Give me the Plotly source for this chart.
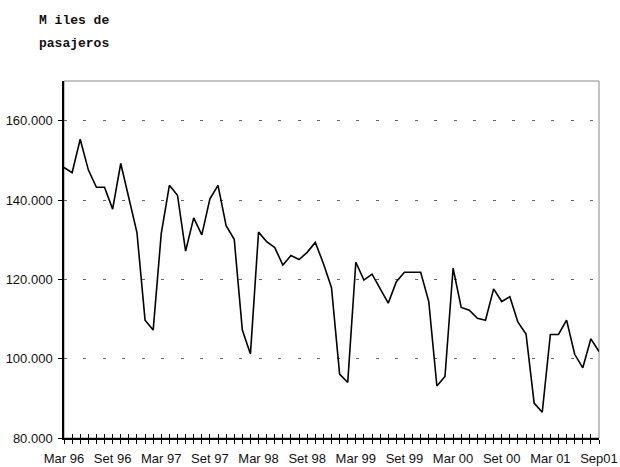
import plotly.graph_objects as go

# Monthly passengers (Mar 96 .. Sep 01)
values = [148200, 146900, 155300, 147600, 143200, 143200, 137700, 149200, 140500, 131800,
          109700, 107200, 131600, 143700, 141200, 127100, 135500, 131200, 140300, 143700,
          133500, 130100, 107200, 101200, 131900, 129500, 128000, 123600, 126000, 125000,
          126800, 129300, 124000, 117900, 96100, 94000, 124300, 119800, 121300, 117600,
          114000, 119400, 121800, 121800, 121800, 114400, 93100, 95500, 122800, 112900,
          112200, 110200, 109700, 117600, 114400, 115600, 109200, 106200, 88800, 86500,
          106100, 106100, 109700, 101100, 97700, 105000, 101800]

x_labels = ["Mar 96", "Set 96", "Mar 97", "Set 97", "Mar 98", "Set 98",
            "Mar 99", "Set 99", "Mar 00", "Set 00", "Mar 01", "Sep01"]
label_step = 6

y_ticks = [80000, 100000, 120000, 140000, 160000]
y_tick_text = ["80.000", "100.000", "120.000", "140.000", "160.000"]
y_range = [80000, 170000]

title_lines = ["M iles de", "pasajeros"]

W, H = 620, 467
ML, MR, MT, MB = 64, 21, 81, 29

n = len(values)
xs = list(range(n))
ticktext = [""] * n
for k, lab in enumerate(x_labels):
    idx = k * label_step
    if idx < n:
        ticktext[idx] = lab

fig = go.Figure()
fig.add_trace(go.Scatter(x=xs, y=values, mode="lines",
                         line=dict(color="black", width=1.6),
                         showlegend=False, hoverinfo="skip"))
# transparent copy on an overlaying axis: gives the inner half of the crossing ticks
fig.add_trace(go.Scatter(x=xs, y=values, mode="lines", xaxis="x2",
                         line=dict(color="rgba(0,0,0,0)", width=0),
                         showlegend=False, hoverinfo="skip"))

tick_font = dict(family="Liberation Sans, Arial, sans-serif", size=13, color="#111")
title_font = dict(family="Liberation Mono, Courier New, monospace", size=13, color="#111")

plot_w = W - ML - MR
plot_h = H - MT - MB
def px_to_paper(px, py):
    return (px - ML) / plot_w, (H - MB - py) / plot_h

anns = []
for line, (px, py) in zip(title_lines, [(74, 21), (74, 44)]):
    xp, yp = px_to_paper(px, py)
    anns.append(dict(text="<b>" + line + "</b>", x=xp, y=yp, xref="paper", yref="paper",
                     xanchor="center", yanchor="middle", showarrow=False, font=title_font))

fig.update_layout(
    width=W, height=H,
    margin=dict(l=ML, r=MR, t=MT, b=MB, autoexpand=False),
    paper_bgcolor="white", plot_bgcolor="white",
    xaxis=dict(range=[0, n - 1], tickmode="array", tickvals=xs, ticktext=ticktext,
               ticks="outside", ticklen=4, tickwidth=1, tickcolor="black",
               showline=True, linecolor="black", linewidth=1.5,
               showgrid=False, zeroline=False, tickangle=0, automargin=False,
               tickfont=tick_font, ticklabelstandoff=4),
    xaxis2=dict(range=[0, n - 1], overlaying="x", anchor="y", side="bottom",
                tickmode="array", tickvals=xs, showticklabels=False,
                ticks="inside", ticklen=4, tickwidth=1, tickcolor="black",
                showline=False, showgrid=False, zeroline=False, automargin=False),
    yaxis=dict(range=y_range, tickmode="array", tickvals=y_ticks, ticktext=y_tick_text,
               ticks="outside", ticklen=4, tickwidth=1, tickcolor="black",
               showline=True, linecolor="black", linewidth=1.5,
               showgrid=True, gridcolor="#666", gridwidth=1, griddash="3px,16px,3px,17px",
               zeroline=False, tickfont=tick_font, ticklabelstandoff=3, automargin=False),
    shapes=[dict(type="rect", xref="paper", yref="paper", x0=0, x1=1, y0=0, y1=1,
                 line=dict(color="#888", width=1), layer="below")],
    annotations=anns,
)

fig.write_html("out.html", config={"displayModeBar": False},
               post_script="document.body.style.margin='0px';")
